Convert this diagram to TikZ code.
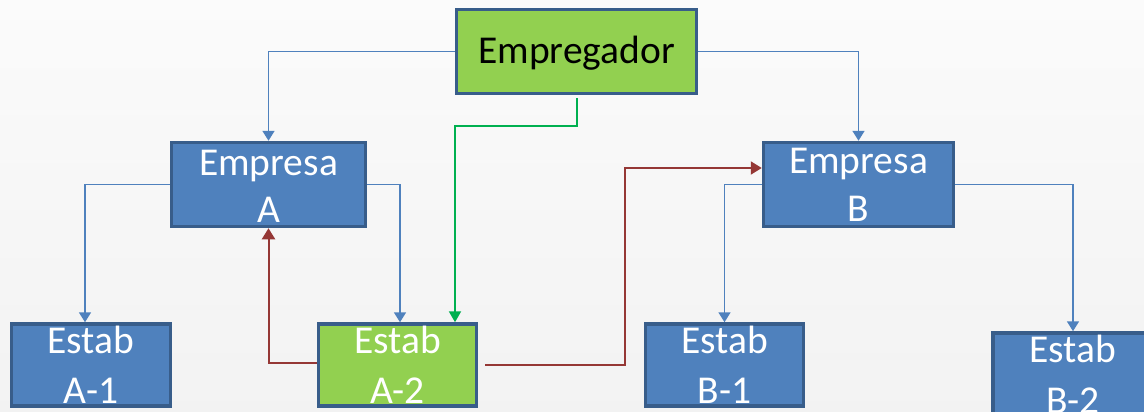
\documentclass[tikz,border=0pt]{standalone}
\usepackage{fontspec}
\setmainfont{Carlito}
\usetikzlibrary{arrows.meta}
\definecolor{boxblue}{HTML}{4F81BD}
\definecolor{boxedge}{HTML}{385D8A}
\definecolor{boxgreen}{HTML}{92D050}
\definecolor{linkblue}{HTML}{4F81BD}
\definecolor{linkred}{HTML}{953735}
\definecolor{linkgreen}{HTML}{00B050}
\tikzset{
  bluebox/.style={draw=boxedge, fill=boxblue, line width=3.5pt, inner sep=0pt},
  greenbox/.style={draw=boxedge, fill=boxgreen, line width=3.5pt, inner sep=0pt},
  lbl/.style={anchor=base, inner sep=0pt, font=\fontsize{39.5}{46}\selectfont, text=white},
  darklbl/.style={lbl, text=black},
  conn/.style={draw=linkblue, line width=1.7pt, -{Triangle[length=10pt,width=12pt]}},
  redconn/.style={draw=linkred, line width=2pt, -{Triangle[length=11pt,width=13pt]}},
  greenconn/.style={draw=linkgreen, line width=2pt, -{Triangle[length=11pt,width=12pt]}},
}
\begin{document}
\begin{tikzpicture}[x=1pt,y=-1pt]
\useasboundingbox (0,0) rectangle (1144,412);
\clip (0,0) rectangle (1144,412);
\shade[top color=white!60!gray!8, bottom color=gray!10] (0,0) rectangle (1144,412);

% boxes
\node[greenbox, minimum width=240pt, minimum height=84pt] (emp) at (576.5,51.5) {};
\node[bluebox, minimum width=194pt, minimum height=84pt] (ea) at (268.5,184.5) {};
\node[bluebox, minimum width=190pt, minimum height=84pt] (eb) at (858.5,184.5) {};
\node[bluebox, minimum width=159pt, minimum height=82pt] (a1) at (91,365) {};
\node[greenbox, minimum width=158pt, minimum height=82pt] (a2) at (397.5,365) {};
\node[bluebox, minimum width=158pt, minimum height=82pt] (b1) at (724.5,365) {};
\node[bluebox, minimum width=160pt, minimum height=110pt] (b2) at (1073,388) {};

% texts
\node[darklbl] (empt) at (576.5,64) {Empregador};
\node[lbl] (eat1) at (268.5,175) {Empresa};
\node[lbl] (eat2) at (268.5,222) {A};
\node[lbl] (ebt1) at (858.5,173) {Empresa};
\node[lbl] (ebt2) at (858.5,221) {B};
\node[lbl] (a1t1) at (91,353) {Estab};
\node[lbl] (a1t2) at (91,403) {A-1};
\node[lbl] (a2t1) at (397.5,353) {Estab};
\node[lbl] (a2t2) at (397.5,403) {A-2};
\node[lbl] (b1t1) at (724.5,353) {Estab};
\node[lbl] (b1t2) at (724.5,403) {B-1};
\node[lbl] (b2t1) at (1073,362) {Estab};
\node[lbl] (b2t2) at (1073,413) {B-2};

% helper coordinates
\coordinate (g1) at (455,126);
\coordinate (r1) at (625,168);

% blue connectors
\draw[conn] (emp.west) -| (ea.north);
\draw[conn] (emp.east) -| (eb.north);
\draw[conn] (ea.west) -| ([xshift=-6pt]a1.north);
\draw[conn] (ea.east) -| ([xshift=2.5pt]a2.north);
\draw[conn] (eb.west) -| (b1.north);
\draw[conn] (eb.east) -| (b2.north);

% green connector
\draw[greenconn] ([yshift=-3pt]emp.south) |- (g1) -- (g1 |- a2.north);

% red connectors
\draw[redconn] ([yshift=2pt]a2.west) -| (ea.south);
\draw[redconn] ([xshift=7pt]a2.east) -| (r1) -- (r1 -| eb.west);
\end{tikzpicture}
\end{document}
